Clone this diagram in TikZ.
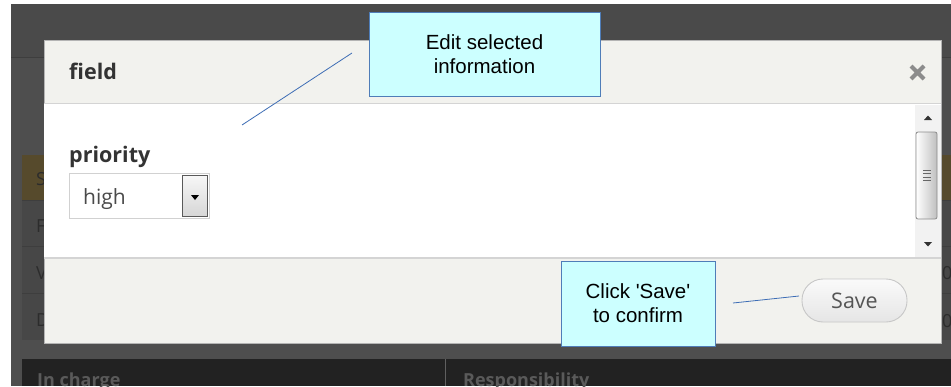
\documentclass[tikz,border=0pt]{standalone}
\usepackage{fontspec}
\setmainfont{Open Sans}
\newfontfamily\calloutfont{Liberation Sans}
\definecolor{outerbg}{HTML}{4E4E4E}
\definecolor{outertop}{HTML}{4A4A4A}
\definecolor{cellbg}{HTML}{474747}
\definecolor{cellsel}{HTML}{564A2C}
\definecolor{cellline}{HTML}{3E3E3E}
\definecolor{celltext}{HTML}{2C2C2C}
\definecolor{headbg}{HTML}{222222}
\definecolor{headtext}{HTML}{5A5A5A}
\definecolor{dlgbg}{HTML}{F2F2EE}
\definecolor{dlgborder}{HTML}{B4B4B4}
\definecolor{dlgline}{HTML}{D4D4D4}
\definecolor{uitext}{HTML}{333333}
\definecolor{valtext}{HTML}{4A4A4A}
\definecolor{savetext}{HTML}{555555}
\definecolor{cfill}{HTML}{CCFFFF}
\definecolor{cborder}{HTML}{4F7DB8}
\definecolor{cline}{HTML}{3D6DB5}
\begin{document}
\begin{tikzpicture}[x=1pt,y=-1pt,
  callout/.style={draw=cborder,fill=cfill,line width=0.9pt,inner sep=0pt,align=center,
    font=\calloutfont\fontsize{20.5}{24}\selectfont,text=black},
  connector/.style={draw=cline,line width=0.8pt},
  cellletter/.style={anchor=base west,text=celltext,inner sep=0pt,font=\fontsize{18}{20}\selectfont},
  headlabel/.style={anchor=base west,text=headtext,inner sep=0pt,font=\bfseries\fontsize{18}{20}\selectfont},
  uilabel/.style={anchor=base west,text=uitext,inner sep=0pt,font=\bfseries\fontsize{21.5}{24}\selectfont},
  uivalue/.style={anchor=base west,text=valtext,inner sep=0pt,font=\fontsize{21}{24}\selectfont}]
\useasboundingbox (0,0) rectangle (951,386);
\clip (0,0) rectangle (951,386);
% page background
\fill[white] (0,0) rectangle (951,386);
\fill[outertop] (11,4) rectangle (951,57);
\fill[outerbg] (11,57) rectangle (951,386);
\draw[cellline,line width=0.6pt] (11,57) -- (951,57);
% table rows behind the dialog
\fill[cellsel] (22,155) rectangle (951,200);
\fill[cellbg] (22,200) rectangle (951,340);
\foreach \yy in {200,246,293} \draw[cellline,line width=0.8pt] (22,\yy) -- (951,\yy);
\node[cellletter] (rowS) at (36,185) {S};
\node[cellletter] (rowF) at (36,232) {F};
\node[cellletter] (rowV) at (36,279) {V};
\node[cellletter] (rowD) at (36,326) {D};
\node[cellletter] (rowVr) at (942,279) {0};
\node[cellletter] (rowDr) at (942,327) {0};
% table header
\fill[headbg] (22,359) rectangle (951,386);
\draw[outerbg!90,line width=0.8pt] (445,359) -- (445,386);
\node[headlabel] (hIn) at (37,386) {In charge};
\node[headlabel] (hResp) at (463,386) {Responsibility};
% dialog
\filldraw[fill=dlgbg,draw=dlgborder,line width=0.8pt] (44,40) rectangle (941,343);
\fill[white] (44.4,104) rectangle (940.6,258);
\draw[dlgline,line width=1.2pt] (44.4,103.5) -- (940.6,103.5);
\draw[dlgline,line width=1.2pt] (44.4,258) -- (940.6,258);
\node[uilabel] (title) at (69,79) {field};
\draw[gray!90,line width=4pt] (911,66) -- (924,79) (911,79) -- (924,66);
% scrollbar
\fill[black!5] (915,104.6) rectangle (940.6,257.4);
\fill[black!80] (924,120) -- (932,120) -- (928,115.5) -- cycle;
\fill[black!80] (924,242) -- (932,242) -- (928,246.5) -- cycle;
\shade[left color=white,right color=black!25,draw=black!45,rounded corners=2pt,line width=0.8pt] (916,132) rectangle (937,219);
\foreach \yy in {170,173.5,177,180.5} \draw[black!60,line width=1pt] (923,\yy) -- (931,\yy);
% priority dropdown
\node[uilabel] (prio) at (69,162) {priority};
\filldraw[fill=white,draw=black!18,line width=1pt] (69,173) rectangle (209,218);
\node[uivalue] (high) at (83,204) {high};
\shade[top color=black!3,bottom color=black!16,draw=black!65,line width=1pt] (182,175) rectangle (207,216);
\fill[black] (191,195) -- (199,195) -- (195,200) -- cycle;
% save button
\node[draw=black!22,line width=0.9pt,rounded corners=21pt,top color=black!2,bottom color=black!10,
  minimum width=105pt,minimum height=43pt,inner sep=0pt,text=savetext,font=\fontsize{21.5}{24}\selectfont] (save) at (854.5,300.5) {Save};
% callouts
\node[callout,minimum width=231pt,minimum height=84pt] (edit) at (484.5,54) {Edit selected\\information};
\node[callout,minimum width=154pt,minimum height=85pt] (click) at (638,303.5) {Click 'Save'\\to confirm};
% connectors
\coordinate (editEnd) at (242,125);
\coordinate (editStart) at (352,53);
\coordinate (clickStart) at (733,303);
\coordinate (saveEnd) at (799,296);
\draw[connector] (editStart) -- (editEnd);
\draw[connector] (clickStart) -- (saveEnd);
\end{tikzpicture}
\end{document}
